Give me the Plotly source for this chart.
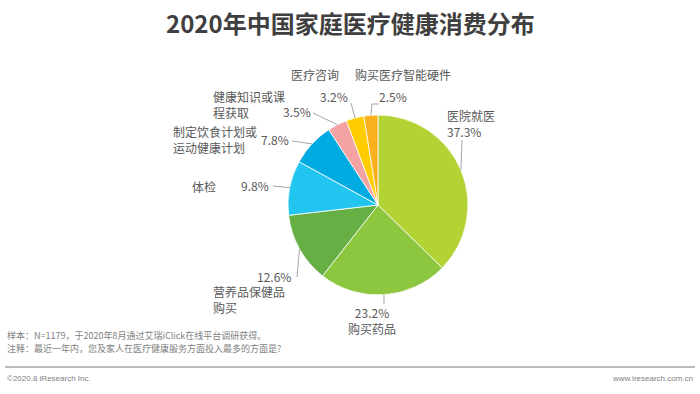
import math
import plotly.graph_objects as go

# ---- data ----
categories = ["医院就医", "购买药品", "营养品保健品购买", "体检", "制定饮食计划或运动健康计划",
              "健康知识或课程获取", "医疗咨询", "购买医疗智能硬件"]
values = [37.3, 23.2, 12.6, 9.8, 7.8, 3.5, 3.2, 2.5]
colors = ["#B3D234", "#8DC63F", "#66AF45", "#22C4F0", "#00ABE2", "#F4A2A2", "#FFCC00", "#F8B01C"]

W, H = 700, 394
CX, CY, R = 378, 205, 90  # pie centre / radius in px


def px(x, y):
    return x / W, 1 - y / H


fig = go.Figure(go.Pie(
    labels=categories, values=values, sort=False, direction="clockwise", rotation=0,
    marker=dict(colors=colors, line=dict(color="white", width=0.8)),
    textinfo="none", hoverinfo="label+percent", showlegend=False,
    domain=dict(x=[(CX - R) / W, (CX + R) / W], y=[1 - (CY + R) / H, 1 - (CY - R) / H]),
))

# label layout: (leader end px, name text, name pos, name anchor, pct pos, pct anchor, combined mode)
# combined: None -> separate texts; "below" -> name over pct; "above" -> pct over name
label_layout = [
    ((462, 140), "医院就医", (445, 123), "left", None, "left", "name_first"),
    ((384, 304), "购买药品", (372, 320), "center", None, "center", "pct_first"),
    ((297, 277), "营养品保健品<br>购买", (211, 299), "left", (293, 276), "right", None),
    ((273, 186), "体检", (190, 186), "left", (271, 185), "right", None),
    ((292, 141), "制定饮食计划或<br>运动健康计划", (171, 139), "left", (291, 140), "right", None),
    ((313, 113), "健康知识或课<br>程获取", (211, 104), "left", (313, 111), "right", None),
    ((351, 103), "医疗咨询", (315, 75), "center", (334, 96), "center", None),
    ((372, 104), "购买医疗智能硬件", (403, 75), "center", (393, 96), "center", None),
]

total = sum(values)
cum = 0
shapes = []
annotations = []
label_font = dict(family="Noto Sans CJK SC", size=12, color="#595959")
for v, lay in zip(values, label_layout):
    mid = cum + v / 2
    cum += v
    ang = math.radians(90 - 360 * mid / total)
    ex, ey = CX + R * math.cos(ang), CY - R * math.sin(ang)
    (lx, ly), name, npos, nanc, ppos, panc, mode = lay
    x0, y0 = px(ex, ey)
    x1, y1 = px(lx, ly)
    shapes.append(dict(type="line", xref="paper", yref="paper", x0=x0, y0=y0, x1=x1, y1=y1,
                       line=dict(color="#A6A6A6", width=1)))
    pct = f"{v:.1f}%"
    if mode == "name_first":
        txt = f"{name}<br>{pct}"
    elif mode == "pct_first":
        txt = f"{pct}<br>{name}"
    else:
        txt = name
    annotations.append(dict(text=txt, x=px(*npos)[0], y=px(*npos)[1], xref="paper", yref="paper",
                            xanchor=nanc, yanchor="middle", align=nanc, showarrow=False,
                            font=label_font))
    if mode is None:
        annotations.append(dict(text=pct, x=px(*ppos)[0], y=px(*ppos)[1], xref="paper",
                                yref="paper", xanchor=panc, yanchor="middle", showarrow=False,
                                font=label_font))

# extra horizontal stub
for (a, b) in [((372, 104), (379, 104))]:
    x0, y0 = px(*a)
    x1, y1 = px(*b)
    shapes.append(dict(type="line", xref="paper", yref="paper", x0=x0, y0=y0, x1=x1, y1=y1,
                       line=dict(color="#A6A6A6", width=1)))

# footer separator line
shapes.append(dict(type="line", xref="paper", yref="paper", x0=5 / W, x1=695 / W,
                   y0=1 - 367 / H, y1=1 - 367 / H, line=dict(color="#A6A6A6", width=1.5)))

annotations += [
    dict(text="<b>2020年中国家庭医疗健康消费分布</b>", x=0.5, y=1 - 22 / H, xref="paper", yref="paper",
         xanchor="center", yanchor="middle", showarrow=False,
         font=dict(family="Noto Sans CJK SC", size=24, color="#3F3F3F")),
    dict(text="样本：N=1179，于2020年8月通过艾瑞iClick在线平台调研获得。", x=5 / W, y=1 - 335 / H,
         xref="paper", yref="paper", xanchor="left", yanchor="middle", showarrow=False,
         font=dict(family="Noto Sans CJK SC", size=9, color="#7F7F7F")),
    dict(text="注释：最近一年内，您及家人在医疗健康服务方面投入最多的方面是?", x=5 / W, y=1 - 348 / H,
         xref="paper", yref="paper", xanchor="left", yanchor="middle", showarrow=False,
         font=dict(family="Noto Sans CJK SC", size=9, color="#7F7F7F")),
    dict(text="©2020.8 iResearch Inc.", x=5 / W, y=1 - 378 / H, xref="paper", yref="paper",
         xanchor="left", yanchor="middle", showarrow=False,
         font=dict(family="Liberation Sans", size=8, color="#7F7F7F")),
    dict(text="www.iresearch.com.cn", x=695 / W, y=1 - 378 / H, xref="paper", yref="paper",
         xanchor="right", yanchor="middle", showarrow=False,
         font=dict(family="Liberation Sans", size=8, color="#7F7F7F")),
]

fig.update_layout(width=W, height=H, margin=dict(l=0, r=0, t=0, b=0),
                  paper_bgcolor="white", plot_bgcolor="white",
                  shapes=shapes, annotations=annotations)
fig.write_html("out.html", config={"displayModeBar": False},
               post_script="document.body.style.margin='0';document.body.style.overflow='hidden';")
